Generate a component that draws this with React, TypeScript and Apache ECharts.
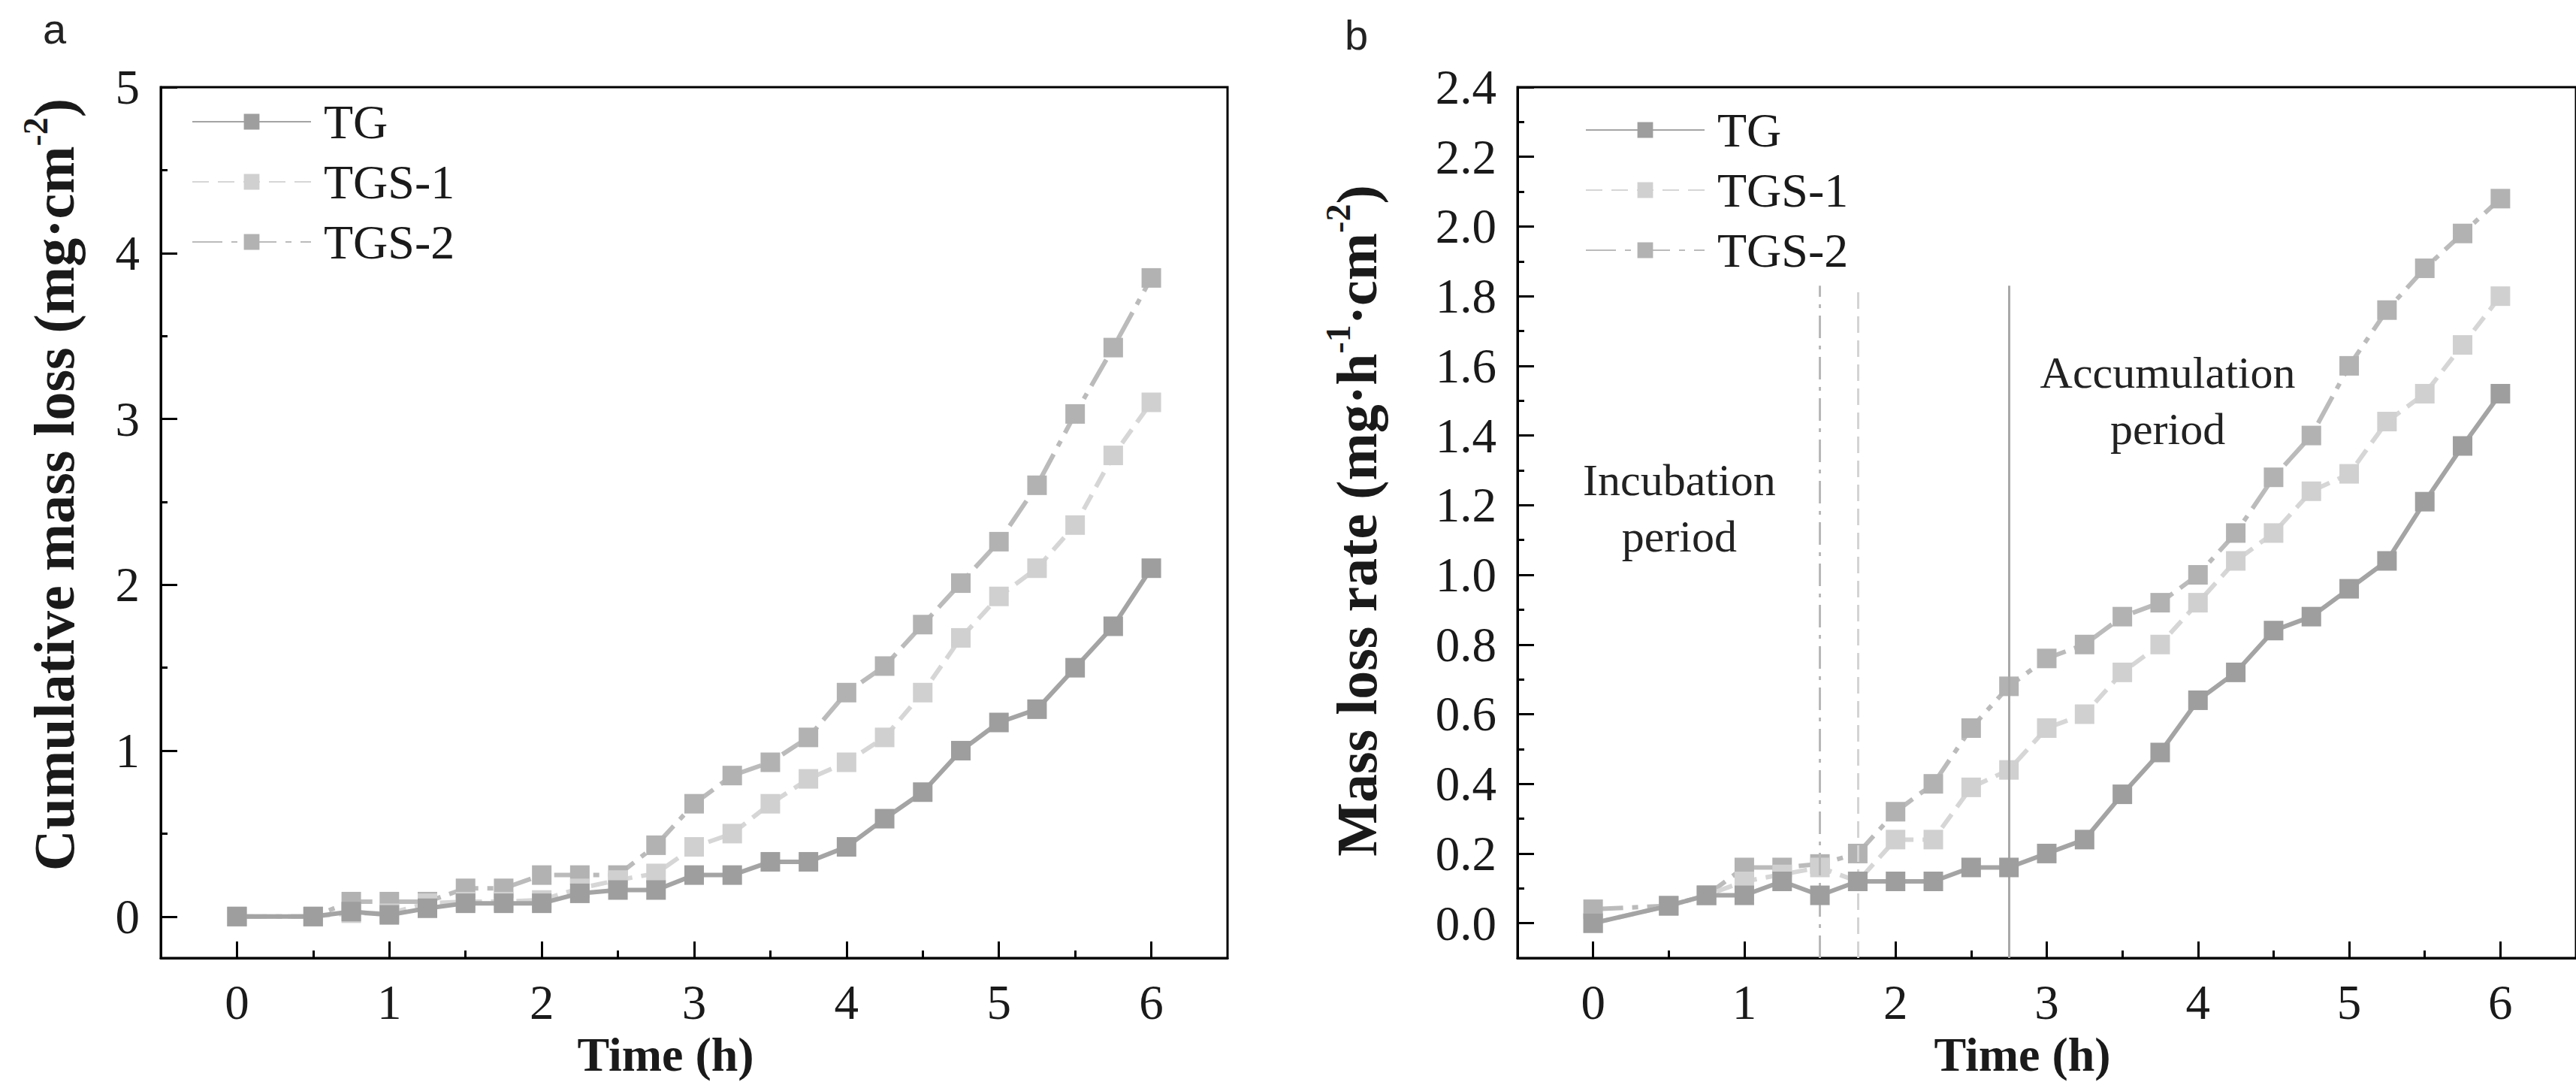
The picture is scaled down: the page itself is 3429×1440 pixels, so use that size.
import React, { useEffect, useRef } from "react";
import * as echarts from "echarts";

// ---------- data ----------
const timeH = [0, 0.5, 0.75, 1, 1.25, 1.5, 1.75, 2, 2.25, 2.5, 2.75, 3, 3.25, 3.5, 3.75, 4, 4.25, 4.5, 4.75, 5, 5.25, 5.5, 5.75, 6];
const seriesNames = ["TG", "TGS-1", "TGS-2"];

// panel a: cumulative mass loss (mg·cm-2)
const cumTG = [0, 0, 0.03, 0.01, 0.05, 0.08, 0.08, 0.08, 0.14, 0.16, 0.16, 0.25, 0.25, 0.33, 0.33, 0.42, 0.59, 0.75, 1.0, 1.17, 1.25, 1.5, 1.75, 2.1];
const cumTGS1 = [0, 0, 0.02, 0.02, 0.08, 0.09, 0.09, 0.1, 0.17, 0.22, 0.26, 0.42, 0.5, 0.68, 0.83, 0.93, 1.08, 1.35, 1.68, 1.93, 2.1, 2.36, 2.78, 3.1];
const cumTGS2 = [0, 0, 0.09, 0.09, 0.09, 0.17, 0.17, 0.25, 0.25, 0.25, 0.43, 0.68, 0.85, 0.93, 1.08, 1.35, 1.51, 1.76, 2.01, 2.26, 2.6, 3.03, 3.43, 3.85];

// panel b: mass loss rate (mg·h-1·cm-2)
const rateTG = [0.0, 0.05, 0.08, 0.08, 0.12, 0.08, 0.12, 0.12, 0.12, 0.16, 0.16, 0.2, 0.24, 0.37, 0.49, 0.64, 0.72, 0.84, 0.88, 0.96, 1.04, 1.21, 1.37, 1.52];
const rateTGS1 = [0.0, 0.05, 0.08, 0.12, 0.14, 0.16, 0.12, 0.24, 0.24, 0.39, 0.44, 0.56, 0.6, 0.72, 0.8, 0.92, 1.04, 1.12, 1.24, 1.29, 1.44, 1.52, 1.66, 1.8];
const rateTGS2 = [0.04, 0.05, 0.08, 0.16, 0.16, 0.17, 0.2, 0.32, 0.4, 0.56, 0.68, 0.76, 0.8, 0.88, 0.92, 1.0, 1.12, 1.28, 1.4, 1.6, 1.76, 1.88, 1.98, 2.08];

// ticks
const xMajorTicks = [0, 1, 2, 3, 4, 5, 6];
const xMinorTicks = [0.5, 1.5, 2.5, 3.5, 4.5, 5.5];
const yMajorA = [0, 1, 2, 3, 4, 5];
const yMinorA = [0.5, 1.5, 2.5, 3.5, 4.5];
const yMajorB = [0, 0.2, 0.4, 0.6, 0.8, 1.0, 1.2, 1.4, 1.6, 1.8, 2.0, 2.2, 2.4];
const yMinorB = [0.1, 0.3, 0.5, 0.7, 0.9, 1.1, 1.3, 1.5, 1.7, 1.9, 2.1, 2.3];

// period boundaries in panel b (h) and their top value
const phaseLines = [1.5, 1.75, 2.75];
const phaseLineTop = 1.83;
const annotationTexts = ["Incubation\nperiod", "Accumulation\nperiod"];
const annotationX = [0.57, 3.8];
const annotationY = [1.19, 1.5];

// ---------- styles ----------
const serif = "'Liberation Serif', 'Times New Roman', serif";
const textColor = "#1a1a1a";
const lineColors = ["#a4a4a4", "#d6d6d6", "#bbbbbb"];
const markerColors = ["#9e9e9e", "#d0d0d0", "#b2b2b2"];
const lineTypes: any[] = ["solid", [22, 12], [40, 12, 8, 12]];
const phaseStyles = [
  { color: "#b8b8b8", width: 3, type: [30, 10, 5, 10] },
  { color: "#d4d4d4", width: 3, type: [22, 10] },
  { color: "#a8a8a8", width: 3, type: "solid" },
];

const zip = (xs: number[], ys: number[]) => xs.map((x, i) => [x, ys[i]]);

const tickFont = 65;

function xAxes(grid: number) {
  const common = {
    type: "value",
    gridIndex: grid,
    min: -0.5,
    max: 6.5,
    position: "bottom",
    splitLine: { show: false },
  };
  return [
    {
      ...common,
      axisLine: { show: true, onZero: false, lineStyle: { color: "#000", width: 3 } },
      axisTick: { show: true, inside: true, length: 22, customValues: xMajorTicks, lineStyle: { color: "#000", width: 3 } },
      axisLabel: { show: true, customValues: xMajorTicks, margin: 26, fontSize: tickFont, fontFamily: serif, color: textColor },
    },
    {
      ...common,
      axisLine: { show: false, onZero: false },
      axisTick: { show: true, inside: true, length: 10, customValues: xMinorTicks, lineStyle: { color: "#000", width: 3 } },
      axisLabel: { show: false },
    },
  ];
}

function yAxes(grid: number, min: number, max: number, major: number[], minor: number[], fmt: (v: number) => string) {
  const common = {
    type: "value",
    gridIndex: grid,
    min,
    max,
    position: "left",
    splitLine: { show: false },
  };
  return [
    {
      ...common,
      axisLine: { show: true, onZero: false, lineStyle: { color: "#000", width: 3 } },
      axisTick: { show: true, inside: true, length: 22, customValues: major, lineStyle: { color: "#000", width: 3 } },
      axisLabel: { show: true, customValues: major, margin: 28, fontSize: tickFont, fontFamily: serif, color: textColor, formatter: fmt },
    },
    {
      ...common,
      axisLine: { show: false, onZero: false },
      axisTick: { show: true, inside: true, length: 9, customValues: minor, lineStyle: { color: "#000", width: 3 } },
      axisLabel: { show: false },
    },
  ];
}

function lineSeries(name: string, idx: number, axisIdx: number, values: number[], extra: any = {}) {
  return {
    type: "line",
    name,
    xAxisIndex: axisIdx,
    yAxisIndex: axisIdx,
    data: zip(timeH, values),
    symbol: "rect",
    symbolSize: 26,
    lineStyle: { color: lineColors[idx], width: 6, type: lineTypes[idx] },
    itemStyle: { color: markerColors[idx] },
    z: 3 - idx + 2,
    ...extra,
  };
}

const legendBase = {
  data: seriesNames,
  orient: "vertical",
  itemWidth: 158,
  itemHeight: 26,
  itemGap: 16,
  textStyle: { fontSize: 64, fontFamily: serif, color: textColor, lineHeight: 64, padding: [0, 0, 0, 12] },
};

const titleRich = {
  b: { fontSize: 76, fontWeight: "bold", fontFamily: serif, fill: textColor, lineHeight: 96 },
  sup: { fontSize: 46, fontWeight: "bold", fontFamily: serif, fill: textColor, verticalAlign: "top", lineHeight: 46 },
};

export default function App() {
  const ref = useRef<HTMLDivElement>(null);
  useEffect(() => {
    if (!ref.current) return;
    const chart = echarts.init(ref.current, undefined, { renderer: "svg" });
    const option: any = {
      animation: false,
      backgroundColor: "#fff",
      grid: [
        { left: 214, top: 116, width: 1420, height: 1159, show: true, borderColor: "#000", borderWidth: 3, backgroundColor: "transparent" },
        { left: 2020, top: 116, width: 1420, height: 1159, show: true, borderColor: "#000", borderWidth: 3, backgroundColor: "transparent" },
      ],
      xAxis: [...xAxes(0), ...xAxes(1)],
      yAxis: [
        ...yAxes(0, -0.25, 5, yMajorA, yMinorA, (v: number) => String(v)),
        ...yAxes(1, -0.1, 2.4, yMajorB, yMinorB, (v: number) => v.toFixed(1)),
      ],
      legend: [
        { ...legendBase, left: 250, top: 125 },
        { ...legendBase, left: 2105, top: 136 },
      ],
      series: [
        lineSeries("TG", 0, 0, cumTG),
        lineSeries("TGS-1", 1, 0, cumTGS1),
        lineSeries("TGS-2", 2, 0, cumTGS2),
        lineSeries("TG", 0, 2, rateTG, {
          markLine: {
            silent: true,
            symbol: ["none", "none"],
            label: { show: false },
            data: phaseLines.map((x, i) => [
              { coord: [x, -0.1], lineStyle: phaseStyles[i] },
              { coord: [x, phaseLineTop] },
            ]),
          },
          markPoint: {
            silent: true,
            symbol: "circle",
            symbolSize: 0,
            data: annotationTexts.map((t, i) => ({
              coord: [annotationX[i], annotationY[i]],
              label: {
                show: true,
                formatter: t,
                fontSize: 60,
                lineHeight: 75,
                fontFamily: serif,
                color: "#222",
                align: "center",
                position: "inside",
              },
            })),
          },
        }),
        lineSeries("TGS-1", 1, 2, rateTGS1),
        lineSeries("TGS-2", 2, 2, rateTGS2),
      ],
      graphic: [
        { type: "text", left: 57, top: 10, style: { text: "a", fontSize: 56, fontFamily: "'Liberation Sans', Arial, sans-serif", fill: "#222" } },
        { type: "text", left: 1790, top: 18, style: { text: "b", fontSize: 56, fontFamily: "'Liberation Sans', Arial, sans-serif", fill: "#222" } },
        {
          type: "text",
          x: 72,
          y: 645,
          rotation: Math.PI / 2,
          style: {
            text: "{b|Cumulative mass loss (mg·cm}{sup|-2}{b|)}",
            rich: titleRich,
            align: "center",
            verticalAlign: "middle",
          },
        },
        {
          type: "text",
          x: 1806,
          y: 693,
          rotation: Math.PI / 2,
          style: {
            text: "{b|Mass loss rate (mg·h}{sup|-1}{b|·cm}{sup|-2}{b|)}",
            rich: titleRich,
            align: "center",
            verticalAlign: "middle",
          },
        },
        {
          type: "text",
          x: 886,
          y: 1403,
          style: { text: "Time (h)", fontSize: 64, fontWeight: "bold", fontFamily: serif, fill: textColor, align: "center", verticalAlign: "middle" },
        },
        {
          type: "text",
          x: 2692,
          y: 1403,
          style: { text: "Time (h)", fontSize: 64, fontWeight: "bold", fontFamily: serif, fill: textColor, align: "center", verticalAlign: "middle" },
        },
      ],
    };
    chart.setOption(option);
    return () => chart.dispose();
  }, []);
  return <div ref={ref} style={{ position: "absolute", left: 0, top: 0, width: 3429, height: 1440 }} />;
}
